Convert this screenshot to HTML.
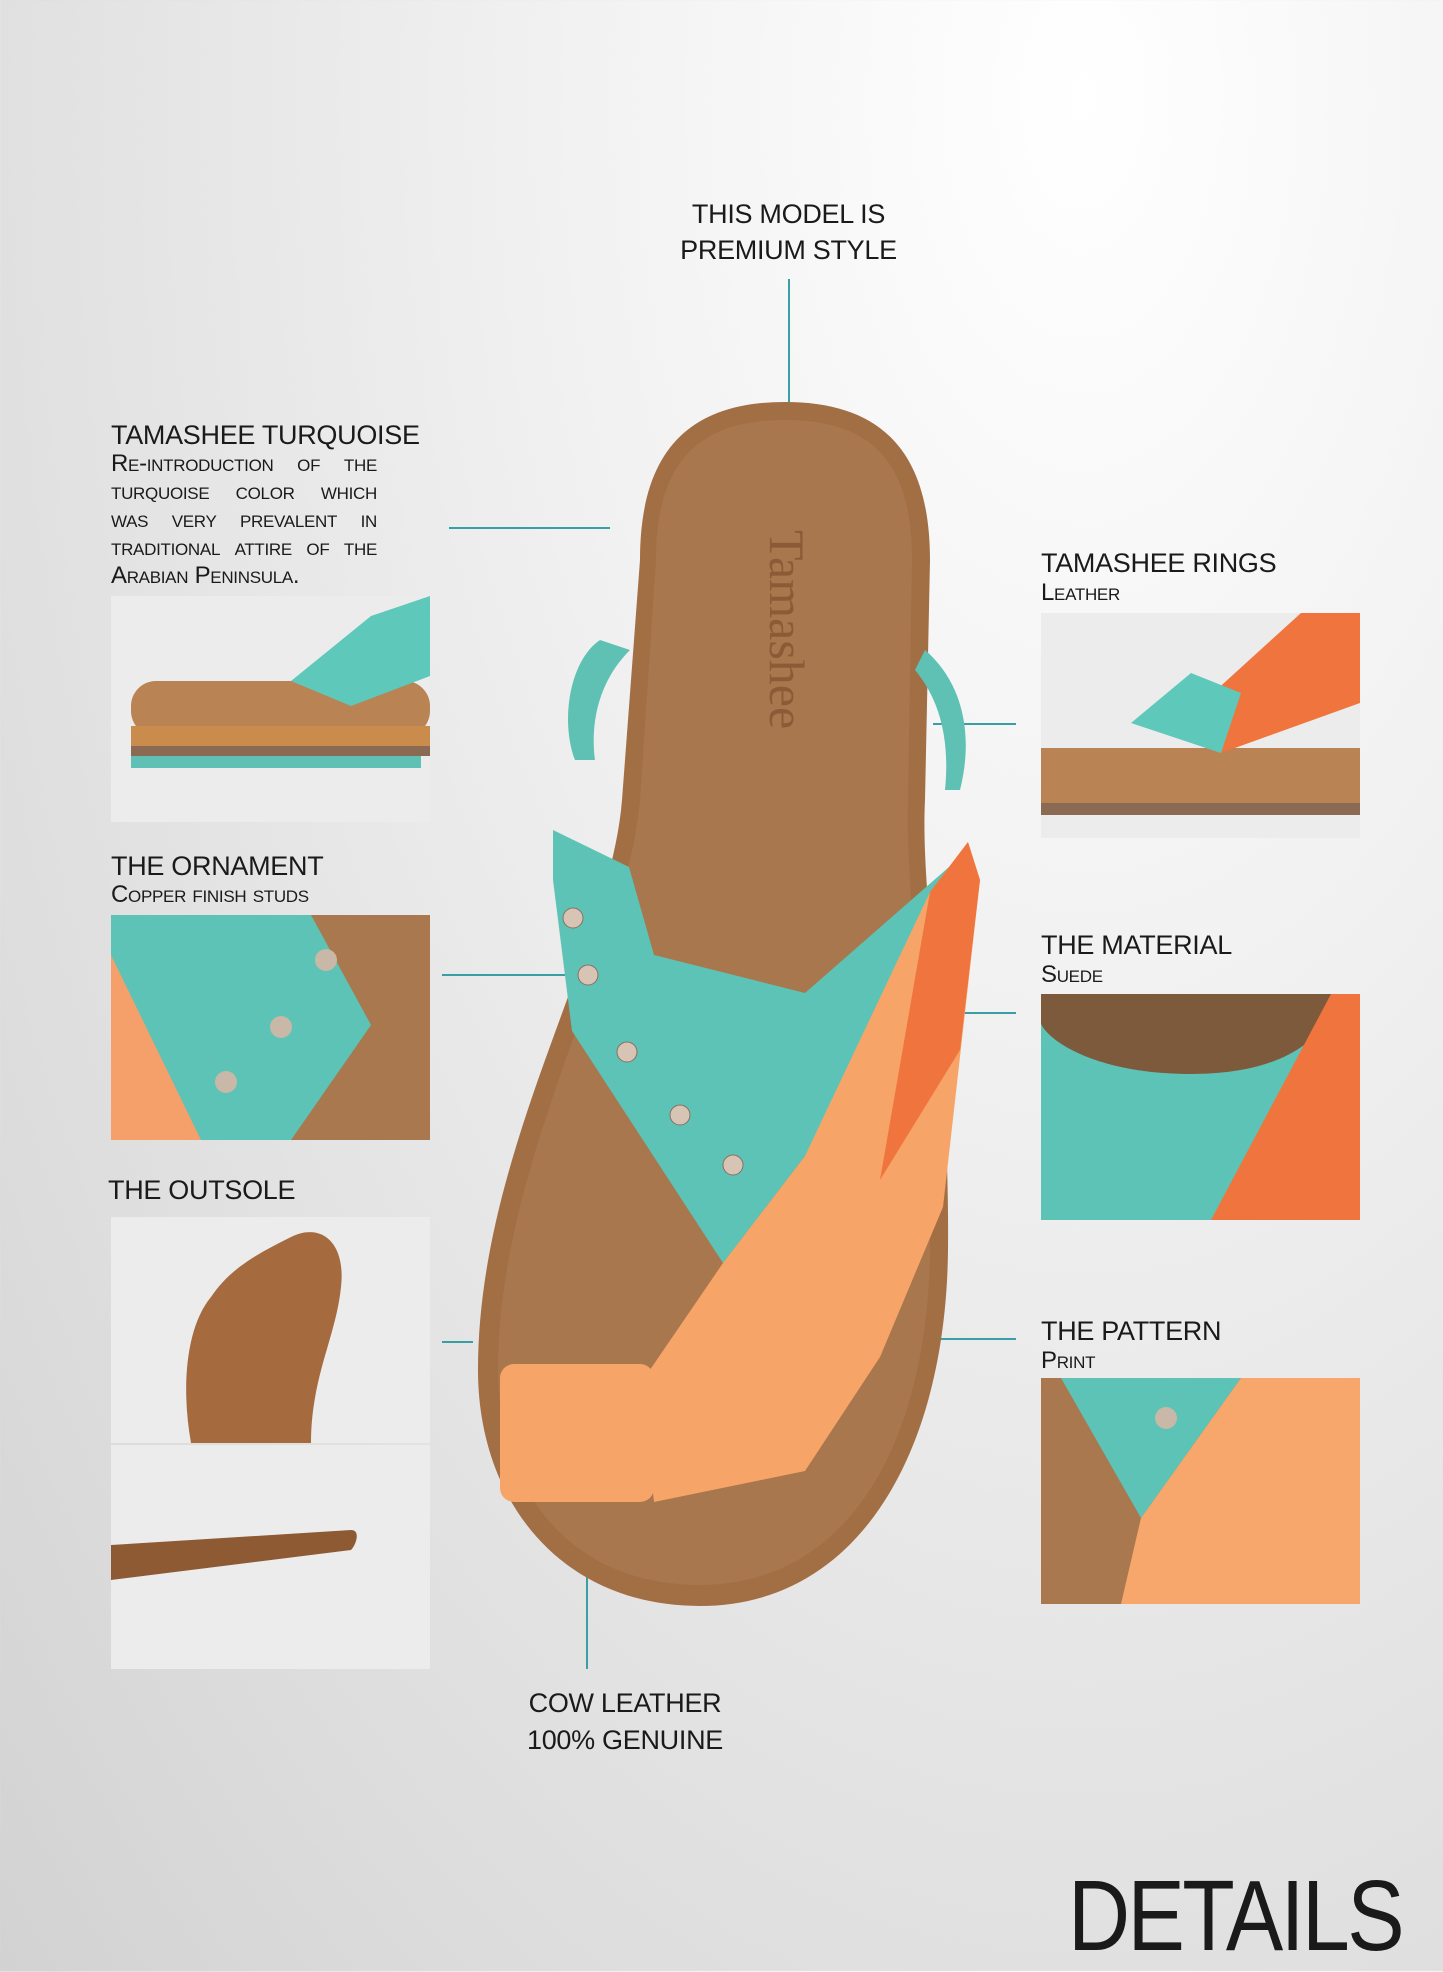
<!DOCTYPE html>
<html><head><meta charset="utf-8"><style>
html,body{margin:0;padding:0}
body{width:1443px;height:1971px;position:relative;overflow:hidden;font-family:"Liberation Sans",sans-serif;color:#1a1a1a;
background:radial-gradient(ellipse at 75% 5%,#ffffff 0%,#f1f1f1 35%,#dcdcdc 80%,#d2d2d2 100%);}
.t{position:absolute;font-size:27px;line-height:34px;letter-spacing:-0.3px;white-space:nowrap;font-weight:300}
.s{position:absolute;font-size:24px;line-height:28px;font-variant:small-caps;letter-spacing:-0.3px}
.box{position:absolute;background:#ececec;overflow:hidden}
.ln{position:absolute;background:#3a9ea5}
</style></head><body>

<div class="t" style="left:0;width:1577px;text-align:center;top:196px;line-height:36px">THIS MODEL IS<br>PREMIUM STYLE</div>
<div class="ln" style="left:788px;top:279px;width:2px;height:189px"></div>

<div class="t" style="left:111px;top:418px">TAMASHEE TURQUOISE</div>
<div class="s" style="left:111px;top:450px;width:266px;text-align:justify;text-align-last:justify">Re-introduction of the turquoise color which was very prevalent in traditional attire of the</div>
<div class="s" style="left:111px;top:562px">Arabian Peninsula.</div>
<div class="ln" style="left:449px;top:527px;width:161px;height:2px"></div>

<div class="box" style="left:111px;top:596px;width:319px;height:226px">
<svg width="319" height="226"><rect x="20" y="85" width="299" height="55" rx="25" fill="#b98354"/><rect x="20" y="130" width="299" height="22" fill="#c98c4d"/><rect x="20" y="150" width="299" height="10" fill="#8a6a52"/><rect x="20" y="160" width="290" height="12" fill="#5fc0b5"/><path d="M180 85 L260 20 L319 0 L319 80 L240 110 Z" fill="#5ec8bb"/></svg></div>

<div class="t" style="left:111px;top:849px">THE ORNAMENT</div>
<div class="s" style="left:111px;top:881px">Copper finish studs</div>
<div class="ln" style="left:442px;top:974px;width:134px;height:2px"></div>
<div class="box" style="left:111px;top:915px;width:319px;height:225px;background:#5cc3b6">
<svg width="319" height="225"><path d="M0 40 L90 225 L0 225Z" fill="#f5a06a"/><path d="M200 0 L319 0 L319 225 L180 225 L260 110Z" fill="#a9784f"/><circle cx="215" cy="45" r="11" fill="#c9b7a8"/><circle cx="170" cy="112" r="11" fill="#c9b7a8"/><circle cx="115" cy="167" r="11" fill="#c9b7a8"/></svg></div>

<div class="t" style="left:108px;top:1173px">THE OUTSOLE</div>
<div class="ln" style="left:442px;top:1341px;width:31px;height:2px"></div>
<div class="box" style="left:111px;top:1217px;width:319px;height:226px">
<svg width="319" height="226"><path d="M180 20 C210 5 235 25 230 70 C225 120 200 160 200 226 L80 226 C70 170 75 110 100 80 C120 50 150 35 180 20Z" fill="#a66a3f"/></svg></div>
<div class="box" style="left:111px;top:1445px;width:319px;height:224px">
<svg width="319" height="224"><path d="M0 100 L240 85 C250 85 245 100 240 105 L0 135Z" fill="#8e5a33"/></svg></div>

<div class="t" style="left:1041px;top:546px">TAMASHEE RINGS</div>
<div class="s" style="left:1041px;top:579px">Leather</div>
<div class="ln" style="left:933px;top:723px;width:83px;height:2px"></div>
<div class="box" style="left:1041px;top:613px;width:319px;height:225px">
<svg width="319" height="225"><rect x="0" y="135" width="319" height="60" fill="#b98354"/><rect x="0" y="190" width="319" height="12" fill="#8a6a52"/><path d="M150 100 L260 0 L319 0 L319 90 L180 140Z" fill="#f0743d"/><path d="M90 110 L150 60 L200 80 L180 140Z" fill="#5ec8bb"/></svg></div>

<div class="t" style="left:1041px;top:928px">THE MATERIAL</div>
<div class="s" style="left:1041px;top:961px">Suede</div>
<div class="ln" style="left:805px;top:1012px;width:211px;height:2px"></div>
<div class="box" style="left:1041px;top:994px;width:319px;height:226px;background:#5cc3b6">
<svg width="319" height="226"><path d="M0 0 L300 0 C280 60 220 80 150 80 C60 80 10 50 0 30Z" fill="#7e5a3d"/><path d="M170 226 L290 0 L319 0 L319 226Z" fill="#f0743d"/></svg></div>

<div class="t" style="left:1041px;top:1314px">THE PATTERN</div>
<div class="s" style="left:1041px;top:1347px">Print</div>
<div class="ln" style="left:805px;top:1338px;width:211px;height:2px"></div>
<div class="box" style="left:1041px;top:1378px;width:319px;height:226px;background:#a9784f">
<svg width="319" height="226"><path d="M20 0 L200 0 L100 140Z" fill="#5cc3b6"/><path d="M200 0 L319 0 L319 226 L80 226 L100 140Z" fill="#f7a66c"/><circle cx="125" cy="40" r="11" fill="#c9b7a8"/></svg></div>

<div class="ln" style="left:586px;top:1546px;width:2px;height:123px"></div>
<div class="t" style="left:0;width:1250px;text-align:center;top:1685px;line-height:37px">COW LEATHER<br>100% GENUINE</div>

<div style="position:absolute;left:1068px;top:1866px;font-size:100px;line-height:100px;letter-spacing:-3px;font-weight:300;transform:scaleX(0.86);transform-origin:left top;white-space:nowrap">DETAILS</div>

<svg style="position:absolute;left:0;top:0" width="1443" height="1971">
<path d="M785 402 C880 402 930 450 930 560 L925 800 C920 900 950 1050 948 1250 C946 1450 860 1606 700 1606 C560 1606 478 1500 478 1370 C478 1150 610 950 622 800 L640 560 C640 450 690 402 785 402Z" fill="#a26f45"/>
<path d="M785 420 C870 420 912 460 912 560 L908 800 C905 900 930 1050 930 1250 C928 1440 850 1585 700 1585 C570 1585 498 1490 498 1370 C498 1160 625 960 640 800 L656 560 C656 460 700 420 785 420Z" fill="#a8774d"/>
<text x="770" y="530" transform="rotate(90 770 530)" font-family="Liberation Serif,serif" font-size="50" fill="#8a5b36">Tamashee</text>
<path d="M600 640 C570 660 560 720 575 760 L595 760 C590 720 600 680 630 650Z" fill="#5ec1b4"/>
<path d="M925 650 C960 680 975 730 960 790 L945 790 C950 740 940 700 915 670Z" fill="#5ec1b4"/>
<path d="M553 830 L629 867 L654 955 L805 993 L949 867 L968 867 L805 1156 L723 1263 L572 1031 L553 880Z" fill="#5cc3b6"/>
<path d="M968 842 L980 880 L943 1207 L880 1357 L805 1471 L654 1502 L641 1383 L723 1263 L805 1156 L930 892Z" fill="#f7a469"/>
<path d="M968 842 L980 880 L960 1050 L880 1180 L930 892Z" fill="#f0743d"/>
<rect x="500" y="1364" width="154" height="138" rx="14" fill="#f7a469"/>
<g fill="#d8c4b4" stroke="#8a7060"><circle cx="573" cy="918" r="10"/><circle cx="588" cy="975" r="10"/><circle cx="627" cy="1052" r="10"/><circle cx="680" cy="1115" r="10"/><circle cx="733" cy="1165" r="10"/></g>
</svg>
</body></html>
